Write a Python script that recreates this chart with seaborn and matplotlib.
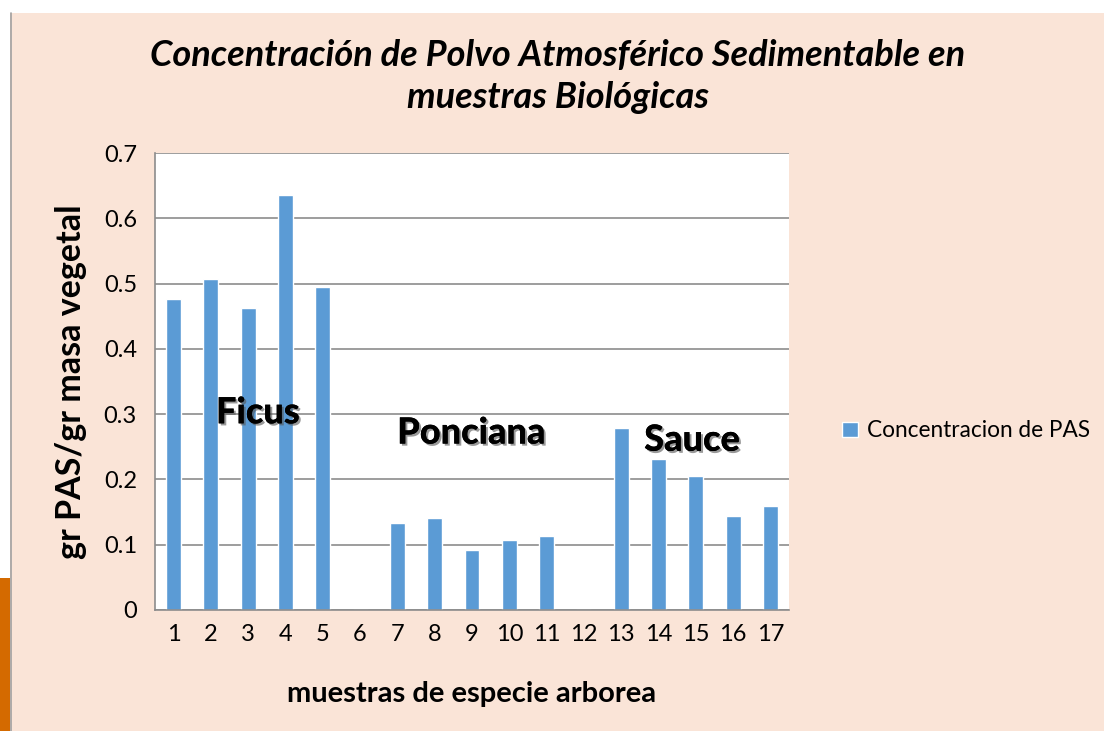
import matplotlib
matplotlib.use("Agg")
import matplotlib.pyplot as plt
import matplotlib.patheffects as pe
from matplotlib.patches import Rectangle
import pandas as pd
import seaborn as sns

# data
samples = [str(i) for i in range(1, 18)]
concentration = [0.476, 0.507, 0.462, 0.635, 0.495, 0.0, 0.133, 0.141, 0.092,
                 0.107, 0.113, 0.0, 0.279, 0.231, 0.205, 0.144, 0.159]
species = ["Ficus", "Ponciana", "Sauce"]
species_x = [2.26, 7.98, 13.9]
species_y = [0.302, 0.271, 0.26]
y_ticks = [0, 0.1, 0.2, 0.3, 0.4, 0.5, 0.6, 0.7]

df = pd.DataFrame({"muestra": samples, "pas": concentration})

sns.set_theme(style="white")
plt.rcParams["font.family"] = ["Lato", "DejaVu Sans"]
plt.rcParams["text.color"] = "black"
plt.rcParams["axes.labelcolor"] = "black"
plt.rcParams["xtick.color"] = "black"
plt.rcParams["ytick.color"] = "black"

bg = "#FAE4D7"
fig = plt.figure(figsize=(11.04, 7.31), dpi=100, facecolor="white")
fig.patches.append(Rectangle((10 / 1104, 0), 1 - 10 / 1104, (731 - 13) / 731,
                             transform=fig.transFigure, facecolor=bg,
                             edgecolor="none", zorder=-2))
fig.patches.append(Rectangle((0, 0), 10 / 1104, (731 - 578) / 731,
                             transform=fig.transFigure, facecolor="#D46A00",
                             edgecolor="none", zorder=-1))
fig.add_artist(plt.Line2D([10.5 / 1104, 10.5 / 1104], [0, (731 - 13) / 731],
                          transform=fig.transFigure, color="#A0A0A0", lw=1.2))

ax = fig.add_axes([155 / 1104, 121 / 731, 634 / 1104, 457 / 731])
ax.set_facecolor("white")

sns.barplot(data=df, x="muestra", y="pas", color="#5B9BD5", width=0.4,
            saturation=1, label="Concentracion de PAS", ax=ax)

ax.set_ylim(0, 0.7)
ax.set_yticks(y_ticks)
ax.set_yticklabels(["0"] + [f"{v:.1f}" for v in y_ticks[1:]])
ax.yaxis.grid(True, color="#8C8C8C", lw=1.2)
ax.set_axisbelow(True)
for side in ["top", "right"]:
    ax.spines[side].set_visible(False)
for side in ["left", "bottom"]:
    ax.spines[side].set_color("#8C8C8C")
    ax.spines[side].set_linewidth(1.2)
ax.tick_params(axis="y", length=5, color="#8C8C8C", labelsize=17, pad=8)
ax.tick_params(axis="x", length=0, labelsize=17, pad=10)

ax.set_xlabel("muestras de especie arborea", fontsize=21, fontweight="bold", labelpad=26)
ax.set_ylabel("gr PAS/gr masa vegetal", fontsize=24.5, fontweight="bold", labelpad=12)

shadow = [pe.withSimplePatchShadow(offset=(1.5, -1.5), shadow_rgbFace="#555555", alpha=0.6),
          pe.Normal()]
for name, xx, yy in zip(species, species_x, species_y):
    ax.text(xx, yy, name, ha="center", va="center", fontsize=26,
            fontweight="black", path_effects=shadow)

fig.text(558 / 1104, 1 - 55 / 731,
         "Concentración de Polvo Atmosférico Sedimentable en",
         ha="center", va="center", fontsize=26, fontweight="bold", style="italic")
fig.text(558 / 1104, 1 - 98 / 731, "muestras Biológicas",
         ha="center", va="center", fontsize=26, fontweight="bold", style="italic")

ax.legend(loc="center left", bbox_to_anchor=(822 / 1104, 1 - 431 / 731),
          bbox_transform=fig.transFigure, frameon=False, fontsize=16.3,
          handlelength=0.7, handleheight=0.7, handletextpad=0.4)

fig.savefig("out.png", dpi=100, facecolor=fig.get_facecolor())
